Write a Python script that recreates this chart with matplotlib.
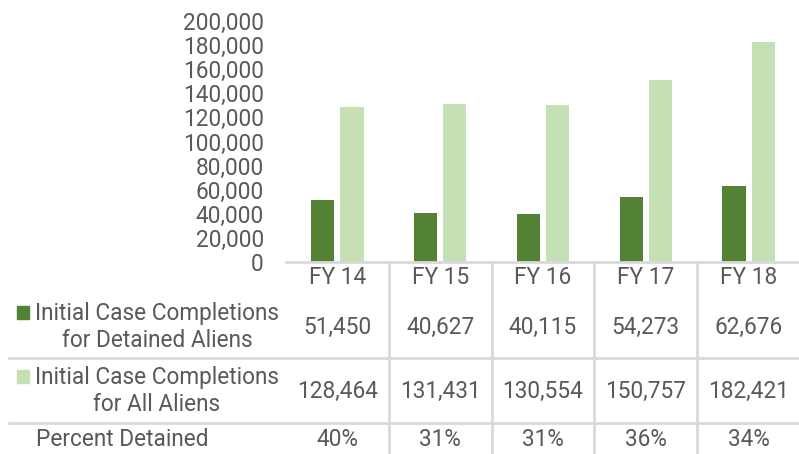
import matplotlib
matplotlib.use("Agg")
import matplotlib.pyplot as plt
from matplotlib.transforms import blended_transform_factory
from matplotlib.lines import Line2D
from matplotlib.patches import Rectangle
from matplotlib.ticker import FuncFormatter
import numpy as np

categories = ["FY 14", "FY 15", "FY 16", "FY 17", "FY 18"]
detained = [51450, 40627, 40115, 54273, 62676]
all_aliens = [128464, 131431, 130554, 150757, 182421]
pct_detained = [40, 31, 31, 36, 34]
series_labels = ["Initial Case Completions\nfor Detained Aliens",
                 "Initial Case Completions\nfor All Aliens"]
row3_label = "Percent Detained"

DARK = "#548235"
LIGHT = "#C5E0B4"
TXT = "#595959"
GRID = "#D9D9D9"
FONT = "Roboto"
FS = 16.3

W, H = 799, 454
fig = plt.figure(figsize=(W / 100, H / 100), dpi=100)

def fx(px):
    return px / W

def fy(py):
    return 1 - py / H

left, right, top, bottom = 286, 800, 21, 262
ax = fig.add_axes([fx(left), fy(bottom), fx(right - left), (bottom - top) / H])
x = np.arange(len(categories))
bw = 0.225
ax.bar(x - 0.03 - bw / 2, detained, width=bw, color=DARK)
ax.bar(x + 0.03 + bw / 2, all_aliens, width=bw, color=LIGHT)
ax.set_xlim(-0.5, len(categories) - 0.5)
ax.set_ylim(0, 200000)
ax.set_yticks(np.arange(0, 200001, 20000))
ax.yaxis.set_major_formatter(FuncFormatter(lambda v, p: f"{int(v):,}"))
ax.tick_params(axis="y", length=0, labelsize=FS, labelcolor=TXT, pad=16)
ax.set_xticks([])
for s in ["top", "right", "left"]:
    ax.spines[s].set_visible(False)
ax.spines["bottom"].set_color(GRID)
ax.spines["bottom"].set_linewidth(2)
for lab in ax.get_yticklabels():
    lab.set_fontfamily(FONT)

tr = blended_transform_factory(ax.transData, fig.transFigure)

# table lines
for i in range(1, len(categories) + 1):
    fig.add_artist(Line2D([i - 0.5, i - 0.5], [fy(262), fy(454)], transform=tr,
                          color=GRID, lw=2))
for py in [358, 423]:
    fig.add_artist(Line2D([fx(9), fx(800)], [fy(py), fy(py)], color=GRID, lw=2))

# header and values
for i, c in enumerate(categories):
    fig.text(i, fy(278), c, transform=tr, ha="center", va="center",
             fontsize=FS, color=TXT, family=FONT)
    fig.text(i, fy(327), f"{detained[i]:,}", transform=tr, ha="center", va="center",
             fontsize=FS, color=TXT, family=FONT)
    fig.text(i, fy(391), f"{all_aliens[i]:,}", transform=tr, ha="center", va="center",
             fontsize=FS, color=TXT, family=FONT)
    fig.text(i, fy(440), f"{pct_detained[i]}%", transform=tr, ha="center", va="center",
             fontsize=FS, color=TXT, family=FONT)

# row labels
for lbl, col, yc in [(series_labels[0], DARK, 327), (series_labels[1], LIGHT, 391)]:
    fig.text(fx(157), fy(yc), lbl, ha="center", va="center", fontsize=FS,
             color=TXT, family=FONT, linespacing=1.2)
    fig.add_artist(Rectangle((fx(17), fy(yc - 8)), fx(12), 13 / H, color=col,
                             transform=fig.transFigure))
fig.text(fx(36), fy(440), row3_label, ha="left", va="center", fontsize=FS,
         color=TXT, family=FONT)

fig.savefig("out.png", dpi=100)
